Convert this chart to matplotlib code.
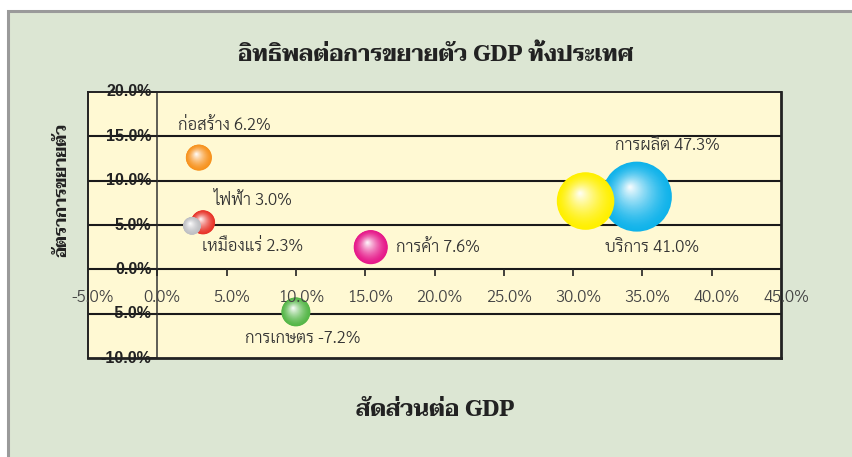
import matplotlib
matplotlib.use("Agg")
import matplotlib.pyplot as plt
import numpy as np
from matplotlib.transforms import ScaledTranslation
from matplotlib.patches import Rectangle
from matplotlib.colors import to_rgb
import matplotlib.markers as mmarkers

# ---------------- data ----------------
sectors = ["ก่อสร้าง", "ไฟฟ้า", "เหมืองแร่", "การค้า", "การเกษตร", "การผลิต", "บริการ"]
contrib = [6.2, 3.0, 2.3, 7.6, -7.2, 47.3, 41.0]          # value shown in label (%)
share = [3.0, 3.3, 2.5, 15.4, 10.0, 34.6, 30.9]            # x: share of GDP (%)
growth = [12.6, 5.3, 4.9, 2.5, -4.8, 8.2, 7.7]             # y: growth rate (%)
bubble_size = [6.8, 5.8, 3.2, 11.6, 8.4, 49.0, 33.1]       # relative bubble area
colors = ["#F7931E", "#E8342A", "#BFC0C4", "#E6198A", "#55B748", "#10B3EA", "#FFF000"]
x_ticks = [-5, 0, 5, 10, 15, 20, 25, 30, 35, 40, 45]
y_ticks = [-10, -5, 0, 5, 10, 15, 20]

title = "อิทธิพลต่อการขยายตัว GDP ทั้งประเทศ"
xlabel = "สัดส่วนต่อ GDP"
ylabel = "อัตราการขยายตัว"

# label placement (pixel offsets from bubble centre)
label_offsets = [(25, 32), (50, 22), (61, -21), (67, 0), (7, -27), (31, 51), (66, -46)]

W, H = 852, 457
fig = plt.figure(figsize=(W / 100, H / 100), dpi=100, facecolor="white")

bg = Rectangle((7.5 / W, -0.1), 1.2, 1 - 10.5 / H + 0.1, transform=fig.transFigure,
               facecolor="#DCE6D3", edgecolor="#9A9A9A", lw=2.2, zorder=-1)
fig.patches.append(bg)

ax = fig.add_axes([88 / W, 1 - 358 / H, 693 / W, 266 / H])
ax.set_facecolor("#FFF9D3")
ax.set_xlim(-5, 45)
ax.set_ylim(-10, 20)
ax.set_xticks([])
ax.set_yticks([])
for sp in ax.spines.values():
    sp.set_color("#222222")
    sp.set_linewidth(1.4)
ax.spines["bottom"].set_linewidth(2.0)
ax.spines["right"].set_linewidth(2.0)

for yt in y_ticks:
    if y_ticks[0] < yt < y_ticks[-1]:
        ax.axhline(yt, color="#1a1a1a", lw=1.5, zorder=1)
ax.axvline(0, color="#333333", lw=1.1, zorder=1)

# tick marks on the zero axes
ax.plot(x_ticks[1:-1], [0] * (len(x_ticks) - 2), ls="none", marker=mmarkers.TICKDOWN,
        ms=5, mew=1.2, color="#222222", zorder=2)
ax.plot([0] * len(y_ticks), y_ticks, ls="none", marker=mmarkers.TICKLEFT,
        ms=5, mew=1.2, color="#222222", zorder=2, clip_on=False)

# bubbles with radial shading
order = np.argsort(bubble_size)[::-1]
for rank, i in enumerate(order):
    base = np.array(to_rgb(colors[i]))
    s_full = bubble_size[i] * 51.84
    r_pts = np.sqrt(s_full) / 2
    n = 40
    for k, f in enumerate(np.linspace(1.0, 0.04, n)):
        w = (1 - f) ** 1.5
        col = base * (1 - w) + w
        dx = -0.2 * r_pts * (1 - f) / 72
        dy = 0.28 * r_pts * (1 - f) / 72
        tr = ax.transData + ScaledTranslation(dx, dy, fig.dpi_scale_trans)
        ax.scatter([share[i]], [growth[i]], s=s_full * f ** 2, color=[tuple(np.clip(col, 0, 1))],
                   transform=tr, edgecolors="none", zorder=3 + rank + k / 1000)

lab_font = dict(family=["Sarabun", "DejaVu Sans"], weight=300)
for i in range(len(sectors)):
    ax.annotate(f"{sectors[i]} {contrib[i]:.1f}%", xy=(share[i], growth[i]),
                xytext=label_offsets[i], textcoords="offset pixels",
                ha="center", va="center", fontsize=12, color="#333333",
                zorder=20, **lab_font)

for xt in x_ticks:
    ax.annotate(f"{xt:.1f}%", xy=(xt, 0), xytext=(5, -28), textcoords="offset pixels",
                ha="center", va="center", fontsize=12, color="#444444",
                annotation_clip=False, zorder=20, **lab_font)

for yt in y_ticks:
    ax.annotate(f"{yt:.1f}%", xy=(0, yt), xytext=(-6, 0), textcoords="offset pixels",
                ha="right", va="center", fontsize=11.5, fontweight="bold", color="#222222",
                family=["Liberation Sans", "DejaVu Sans"], annotation_clip=False, zorder=20)

tfont = dict(family=["Taviraj", "DejaVu Sans"], weight="bold", color="#222222")
fig.text(436 / W, 1 - 55 / H, title, ha="center", va="center", fontsize=16, **tfont)
fig.text(435 / W, 1 - 411 / H, xlabel, ha="center", va="center", fontsize=16, **tfont)
fig.text(62 / W, 1 - 190 / H, ylabel, ha="center", va="center", rotation=90, fontsize=12.2, **tfont)

fig.savefig("out.png", dpi=100, facecolor="white")
